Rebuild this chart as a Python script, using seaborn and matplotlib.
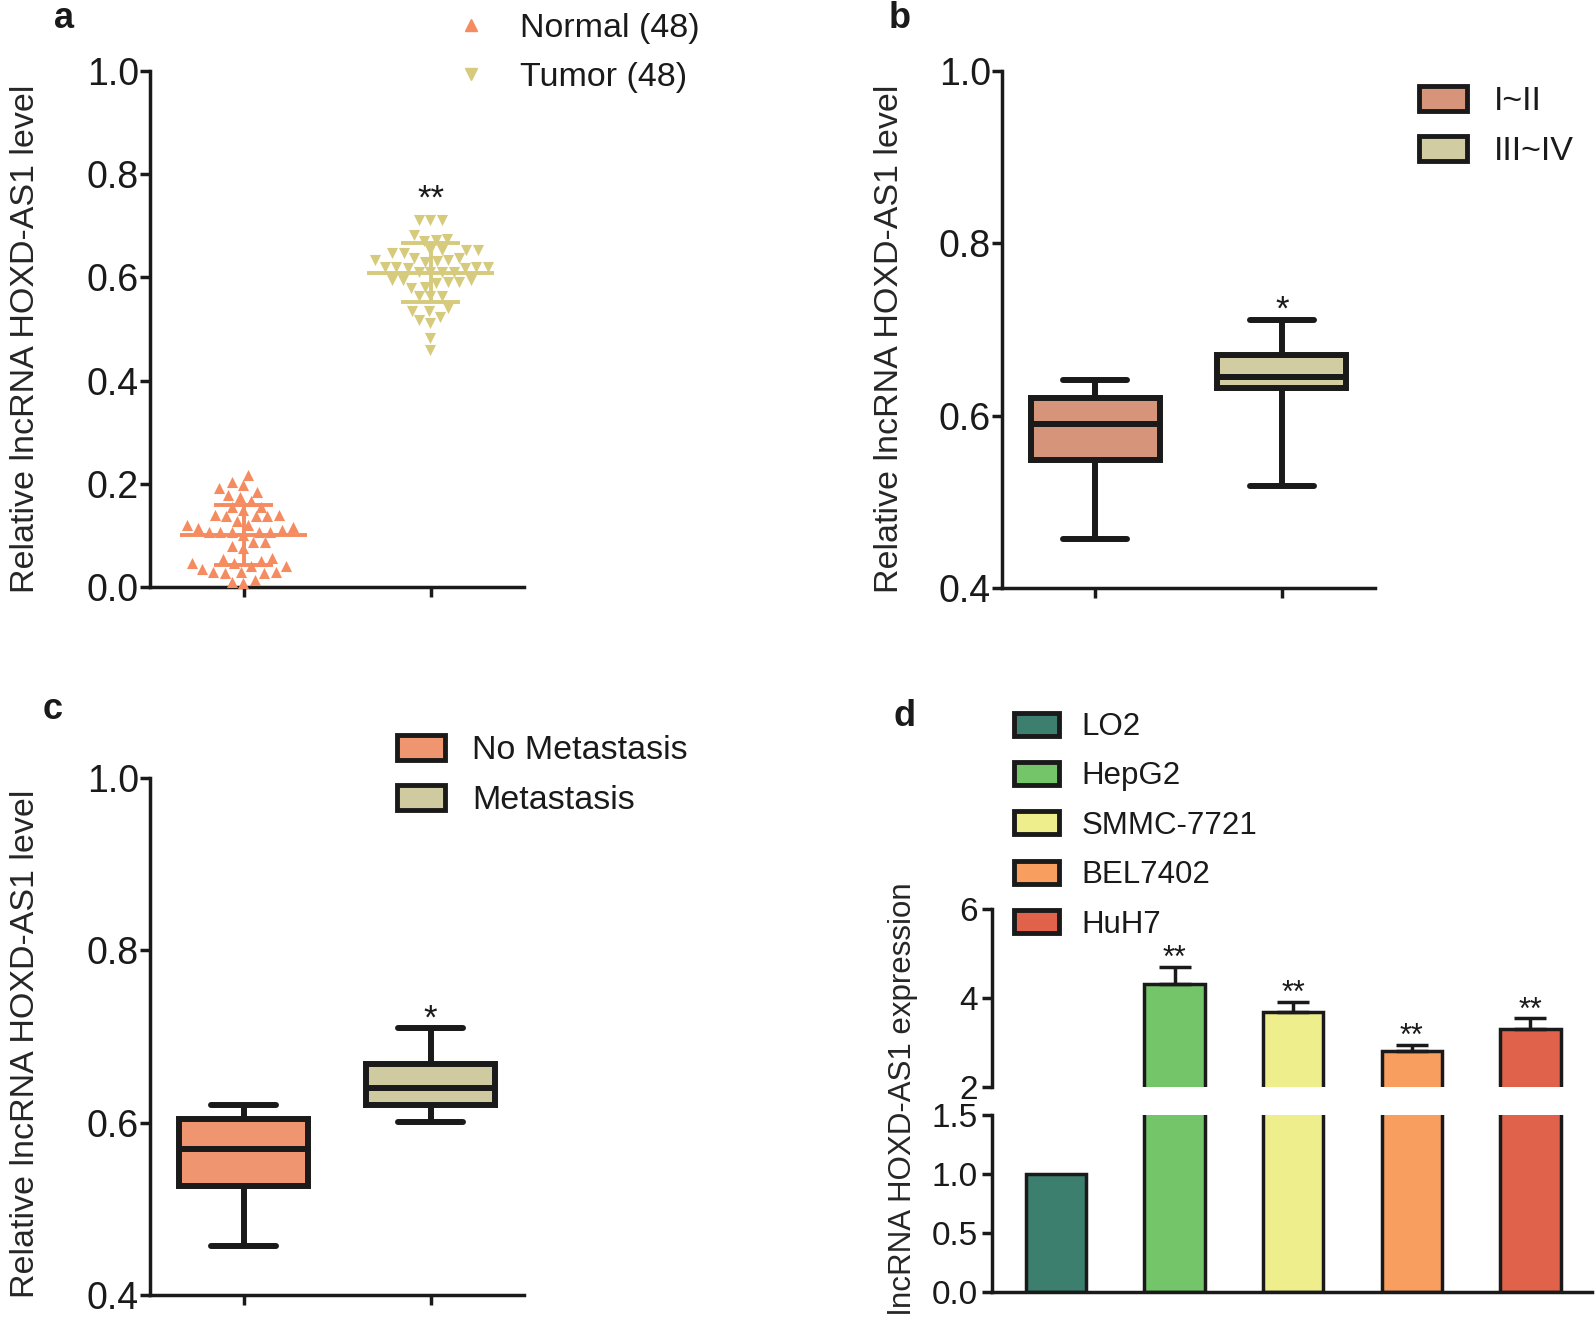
import numpy as np
import pandas as pd
import seaborn as sns
import matplotlib.pyplot as plt
from matplotlib.patches import Patch
from matplotlib.lines import Line2D

# Panel a - relative level of each sample
groups_a = ['Normal', 'Tumor']
normal = [0.217, 0.204, 0.197, 0.192, 0.185, 0.179, 0.175, 0.167,
          0.156, 0.150, 0.156, 0.137, 0.137, 0.140, 0.137, 0.139,
          0.127, 0.117, 0.121, 0.121, 0.114, 0.107, 0.106, 0.111,
          0.106, 0.106, 0.107, 0.101, 0.087, 0.079, 0.087, 0.075,
          0.056, 0.046, 0.055, 0.040, 0.040, 0.046, 0.050, 0.027,
          0.029, 0.034, 0.030, 0.029, 0.027, 0.014, 0.008, 0.010]
tumor = [0.711, 0.711, 0.711, 0.682, 0.672, 0.674, 0.671, 0.653,
         0.653, 0.654, 0.654, 0.647, 0.647, 0.632, 0.634, 0.637,
         0.634, 0.637, 0.630, 0.621, 0.618, 0.621, 0.621, 0.621,
         0.618, 0.611, 0.611, 0.611, 0.611, 0.592, 0.595, 0.589,
         0.595, 0.595, 0.592, 0.582, 0.579, 0.563, 0.563, 0.563,
         0.540, 0.534, 0.534, 0.517, 0.524, 0.511, 0.482, 0.459]

# Panel b - box summaries (min, q1, median, q3, max)
stage_names = ['I~II', 'III~IV']
stage_12 = [0.457, 0.549, 0.590, 0.620, 0.641]
stage_34 = [0.518, 0.632, 0.645, 0.670, 0.711]

# Panel c - box summaries (min, q1, median, q3, max)
meta_names = ['No Metastasis', 'Metastasis']
no_meta = [0.457, 0.527, 0.570, 0.604, 0.621]
meta = [0.601, 0.620, 0.640, 0.668, 0.710]

# Panel d - cell lines
cells = ['LO2', 'HepG2', 'SMMC-7721', 'BEL7402', 'HuH7']
expr = [1.0, 4.31, 3.69, 2.81, 3.31]
expr_sd = [0.0, 0.39, 0.23, 0.13, 0.23]
stars_d = ['', '**', '**', '**', '**']

c_normal = '#F58B60'
c_tumor = '#D6CA7C'
box_b = ['#D6957B', '#D2CCA2']
box_c = ['#EF956F', '#D0CAA0']
bar_cols = ['#3C7F6E', '#74C46A', '#EEEE8C', '#F89E5F', '#E0624A']
ink = '#1a1a1a'

sns.set_style('ticks')
plt.rcParams['font.family'] = ['Liberation Sans', 'DejaVu Sans']
plt.rcParams.update({
    'axes.linewidth': 2.5, 'axes.edgecolor': ink,
    'xtick.major.width': 2.5, 'ytick.major.width': 2.5,
    'xtick.major.size': 7, 'ytick.major.size': 7,
    'xtick.color': ink, 'ytick.color': ink,
    'xtick.labelsize': 27, 'ytick.labelsize': 27,
    'ytick.major.pad': 1.0, 'text.color': ink,
})

W, H = 1595, 1317
fig = plt.figure(figsize=(W / 100, H / 100), dpi=100)


def place(l, t, r, b):
    return fig.add_axes([l / W, 1 - b / H, (r - l) / W, (b - t) / H])


ylab = 'Relative lncRNA HOXD-AS1 level'

# ---------------- a: scatter with mean +/- SD
ax = place(150, 71, 524, 587)
df_a = pd.DataFrame({'group': ['Normal'] * len(normal) + ['Tumor'] * len(tumor),
                     'value': normal + tumor})
for g, col, mk in [('Normal', c_normal, '^'), ('Tumor', c_tumor, 'v')]:
    sns.swarmplot(data=df_a[df_a.group == g], x='group', y='value', order=groups_a,
                  color=col, marker=mk, size=8, linewidth=0, ax=ax, clip_on=False)
for i, vals in enumerate([normal, tumor]):
    col = [c_normal, c_tumor][i]
    m, s = np.mean(vals), np.std(vals, ddof=1)
    ax.hlines(m, i - 0.34, i + 0.34, color=col, lw=2.8, zorder=5)
    ax.hlines([m - s, m + s], i - 0.16, i + 0.16, color=col, lw=2.8, zorder=5)
    ax.vlines(i, m - s, m + s, color=col, lw=2.8, zorder=5)
ax.text(1, 0.752, '**', ha='center', va='center', fontsize=25)
ax.set_ylim(0, 1)
ax.set_xlim(-0.5, 1.5)
ax.set_yticks([0, 0.2, 0.4, 0.6, 0.8, 1.0])
ax.set_xticks([0, 1])
ax.set_xticklabels(['', ''])
ax.set_xlabel('')
ax.set_ylabel(ylab, fontsize=24.5)
ax.yaxis.set_label_coords(41 / W, 0.7428, transform=fig.transFigure)
sns.despine(ax=ax)
hand_a = [Line2D([], [], ls='none', marker='^', color=c_normal, markersize=9),
          Line2D([], [], ls='none', marker='v', color=c_tumor, markersize=9)]
fig.legend(hand_a, ['Normal (48)', 'Tumor (48)'], loc='upper left',
           bbox_to_anchor=(454 / W, 1 - 13 / H), frameon=False, fontsize=24.5,
           handlelength=1.0, handletextpad=0.95, labelspacing=0.52,
           borderpad=0, borderaxespad=0)


def draw_box(ax, names, s1, s2, cols):
    df = pd.DataFrame({'grp': [names[0]] * 5 + [names[1]] * 5, 'value': s1 + s2})
    sns.boxplot(data=df, x='grp', y='value', hue='grp', order=names, hue_order=names,
                palette=cols, saturation=1, legend=False, whis=(0, 100), width=0.69,
                linewidth=4.3, linecolor=ink, ax=ax,
                capprops={'solid_capstyle': 'round'})
    ax.set_ylim(0.4, 1.0)
    ax.set_xlim(-0.5, 1.5)
    ax.set_yticks([0.4, 0.6, 0.8, 1.0])
    ax.set_xticks([0, 1])
    ax.set_xticklabels(['', ''])
    ax.set_xlabel('')
    ax.set_ylabel(ylab, fontsize=24.5)
    sns.despine(ax=ax)
    hands = [Patch(facecolor=c, edgecolor=ink, linewidth=3.5, joinstyle='round') for c in cols]
    return hands


# ---------------- b: tumour stage
ax = place(1002, 71, 1375, 588)
hands = draw_box(ax, stage_names, stage_12, stage_34, box_b)
ax.text(1, 0.722, '*', ha='center', va='center', fontsize=25)
ax.yaxis.set_label_coords(905 / W, 0.7428, transform=fig.transFigure)
fig.legend(hands, stage_names, loc='upper left', bbox_to_anchor=(1419 / W, 1 - 86 / H),
           frameon=False, fontsize=24.5, handlelength=1.4, handleheight=0.75,
           handletextpad=0.8, labelspacing=0.54, borderpad=0, borderaxespad=0)

# ---------------- c: metastasis
ax = place(150, 778, 524, 1295)
hands = draw_box(ax, meta_names, no_meta, meta, box_c)
ax.text(1, 0.720, '*', ha='center', va='center', fontsize=25)
ax.yaxis.set_label_coords(41 / W, 0.2073, transform=fig.transFigure)
fig.legend(hands, meta_names, loc='upper left', bbox_to_anchor=(397 / W, 1 - 735 / H),
           frameon=False, fontsize=24.5, handlelength=1.4, handleheight=0.75,
           handletextpad=0.8, labelspacing=0.54, borderpad=0, borderaxespad=0)

# ---------------- d: cell lines, broken y axis
ax_hi = place(992, 909, 1592, 1087)
ax_lo = place(992, 1115, 1592, 1292)
for a in (ax_hi, ax_lo):
    sns.barplot(x=cells, y=expr, hue=cells, palette=bar_cols, order=cells,
                saturation=1, width=0.51, edgecolor=ink, linewidth=2.5,
                errorbar=None, legend=False, ax=a)
    a.set_xlim(-0.54, 4.52)
    a.tick_params(axis='y', labelsize=24, pad=3)
    a.tick_params(axis='x', bottom=False, labelbottom=False)
ax_hi.errorbar(range(len(cells)), expr, yerr=[np.zeros(len(cells)), expr_sd],
               fmt='none', ecolor=ink, elinewidth=2.5, capsize=11.5, capthick=2.5)
for i, st in enumerate(stars_d):
    if st:
        ax_hi.text(i, expr[i] + expr_sd[i] + 0.18, st, ha='center', va='center', fontsize=22)
ax_hi.set_ylim(2, 6)
ax_hi.set_yticks([2, 4, 6])
ax_lo.set_ylim(0, 1.5)
ax_lo.set_yticks([0, 0.5, 1.0, 1.5])
ax_lo.set_yticklabels(['0.0', '0.5', '1.0', '1.5'])
sns.despine(ax=ax_hi, bottom=True)
sns.despine(ax=ax_lo)
ax_lo.set_ylabel('lncRNA HOXD-AS1 expression', fontsize=22.5)
ax_lo.yaxis.set_label_coords(918 / W, 0.166, transform=fig.transFigure)
hands = [Patch(facecolor=c, edgecolor=ink, linewidth=3.5, joinstyle='round') for c in bar_cols]
fig.legend(hands, cells, loc='upper left', bbox_to_anchor=(1014 / W, 1 - 712 / H),
           frameon=False, fontsize=22.5, handlelength=1.44, handleheight=0.75,
           handletextpad=0.72, labelspacing=0.62, borderpad=0, borderaxespad=0)

# panel letters
for lab, x, y in [('a', 64, 18), ('b', 900, 18), ('c', 53, 709), ('d', 905, 717)]:
    fig.text(x / W, 1 - y / H, lab, ha='center', va='center', fontsize=26, fontweight='bold')

fig.savefig('out.png', dpi=100)
